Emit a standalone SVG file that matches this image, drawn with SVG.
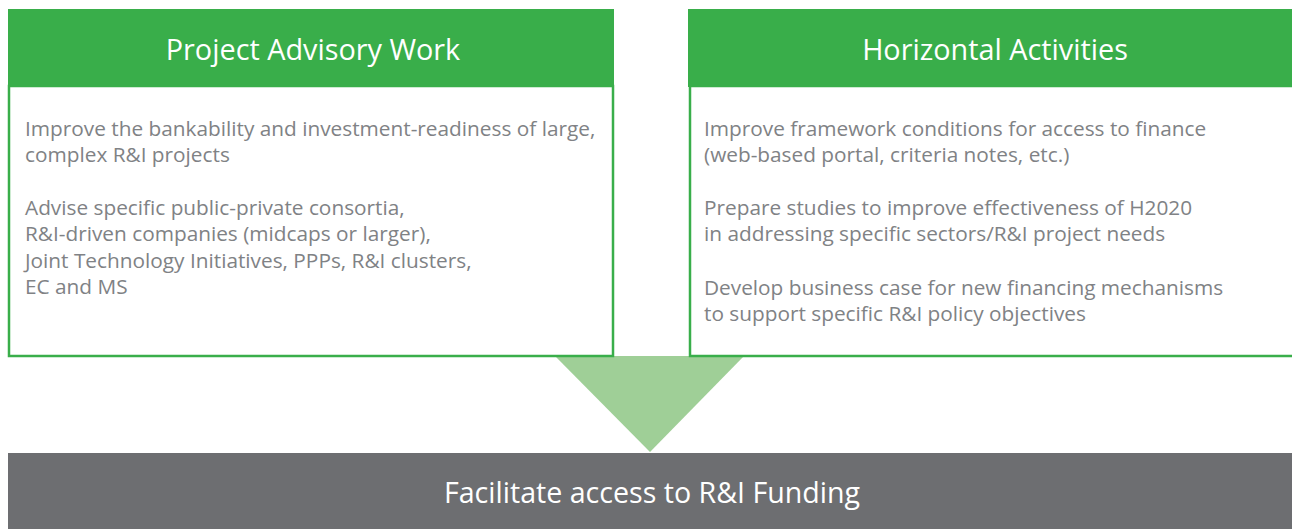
<svg xmlns="http://www.w3.org/2000/svg" width="1292" height="529" viewBox="0 0 1292 529">
<style>
.hdr{fill:#39ae4a}
.body{fill:#ffffff;stroke:#39ae4a;stroke-width:2.5}
.ht{font-family:"Open Sans",sans-serif;font-size:28.8px;fill:#ffffff;text-anchor:middle}
.bt{font-family:"Open Sans",sans-serif;font-size:20.8px;fill:#808285}
.ft{font-family:"Open Sans",sans-serif;font-size:28.6px;fill:#ffffff;text-anchor:middle}
</style>
<rect width="1292" height="529" fill="#ffffff"/>
<g id="connectors">
<polygon points="555,356 744,356 650,452" fill="#9fcf97"/>
</g>
<g id="project-advisory">
<rect class="body" x="9" y="86" width="604" height="270"/>
<rect class="hdr" x="8" y="9" width="606" height="78"/>
<text class="ht" x="313" y="60">Project Advisory Work</text>
<text class="bt" x="25" y="136">Improve the bankability and investment-readiness of large,</text>
<text class="bt" x="25" y="162">complex R&amp;I projects</text>
<text class="bt" x="25" y="215">Advise specific public-private consortia,</text>
<text class="bt" x="25" y="241">R&amp;I-driven companies (midcaps or larger),</text>
<text class="bt" x="25" y="268">Joint Technology Initiatives, PPPs, R&amp;I clusters,</text>
<text class="bt" x="25" y="294">EC and MS</text>
</g>
<g id="horizontal-activities">
<rect class="body" x="690" y="86" width="610" height="270"/>
<rect class="hdr" x="688" y="9" width="610" height="78"/>
<text class="ht" x="995" y="60">Horizontal Activities</text>
<text class="bt" x="704" y="136">Improve framework conditions for access to finance</text>
<text class="bt" x="704" y="162">(web-based portal, criteria notes, etc.)</text>
<text class="bt" x="704" y="215">Prepare studies to improve effectiveness of H2020</text>
<text class="bt" x="704" y="241">in addressing specific sectors/R&amp;I project needs</text>
<text class="bt" x="704" y="295">Develop business case for new financing mechanisms</text>
<text class="bt" x="704" y="321">to support specific R&amp;I policy objectives</text>
</g>
<g id="facilitate">
<rect x="8" y="453" width="1284" height="76" fill="#6d6e71"/>
<text class="ft" x="652" y="503">Facilitate access to R&amp;I Funding</text>
</g>
</svg>
